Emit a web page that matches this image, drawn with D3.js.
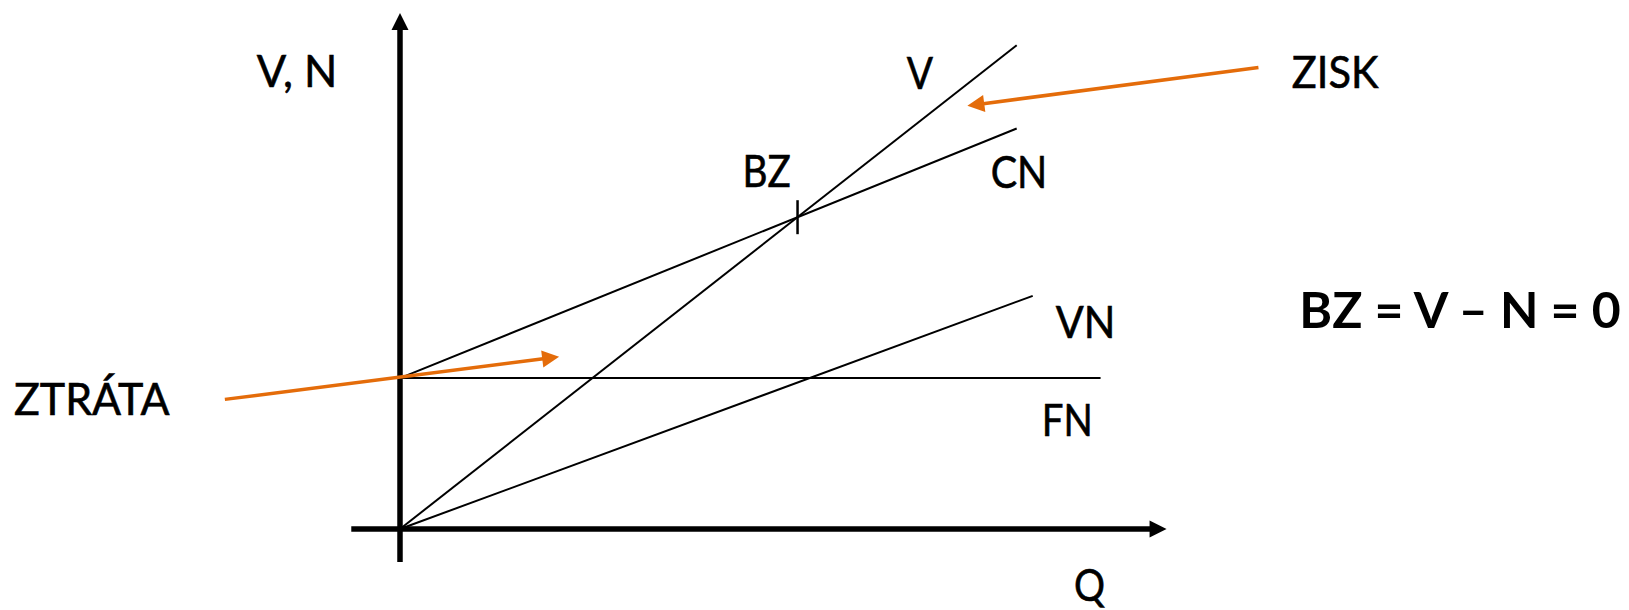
<!DOCTYPE html>
<html>
<head>
<meta charset="utf-8" />
<title>bod zvratu</title>
<script src="https://cdn.jsdelivr.net/npm/d3@7"></script>
<style>
  html, body { margin: 0; padding: 0; background: #fff; }
  svg { display: block; }
  text { font-family: Lato, "Open Sans", sans-serif; fill: #000; }
</style>
</head>
<body>
<svg width="1629" height="610"></svg>
<script>
// data (Q on x, V/N on y)
var lineNames = ["V", "CN", "VN", "FN"];
var lineFrom  = [[0, 0], [0, 31.2], [0, 0], [0, 31.2]];
var lineTo    = [[100, 100], [100, 82.8], [102.6, 48.2], [113.6, 31.2]];

var qAxisRange = [-7.9, 124.3];
var vAxisRange = [-6.8, 106.7];

var arrowNames = ["ZISK", "ZTRÁTA"];
var arrowFrom  = [[139.2, 95.4], [-28.4, 26.8]];
var arrowTo    = [[92.0, 87.5], [25.8, 35.6]];

var axisTitles = ["V, N", "Q"];
var formula = "BZ = V – N = 0";

var svg = d3.select("svg");
var orange = "#E46C0A";

var x = d3.scaleLinear().domain([0, 100]).range([400, 1016.7]);
var y = d3.scaleLinear().domain([0, 100]).range([529, 45.3]);

// arrowhead helper
function head(g, x2, y2, ang, len, half, color) {
  var p = [
    [x2, y2],
    [x2 - len * Math.cos(ang) + half * Math.sin(ang), y2 - len * Math.sin(ang) - half * Math.cos(ang)],
    [x2 - len * Math.cos(ang) - half * Math.sin(ang), y2 - len * Math.sin(ang) + half * Math.cos(ang)]
  ];
  g.append("path").attr("d", "M" + p.join("L") + "Z").attr("fill", color);
}

function arrow(g, x1, y1, x2, y2, w, color) {
  var ang = Math.atan2(y2 - y1, x2 - x1);
  var len = 17;
  g.append("line")
    .attr("x1", x1).attr("y1", y1)
    .attr("x2", x2 - (len - 1) * Math.cos(ang)).attr("y2", y2 - (len - 1) * Math.sin(ang))
    .attr("stroke", color).attr("stroke-width", w);
  head(g, x2, y2, ang, len, 8.5, color);
}

// axes
var axes = svg.append("g");
arrow(axes, x(qAxisRange[0]), y(0), x(qAxisRange[1]), y(0), 5.5, "#000");
arrow(axes, x(0), y(vAxisRange[0]), x(0), y(vAxisRange[1]), 5.5, "#000");

// lines
var lines = svg.append("g");
lineNames.forEach(function(n, i) {
  lines.append("line")
    .attr("x1", x(lineFrom[i][0])).attr("y1", y(lineFrom[i][1]))
    .attr("x2", x(lineTo[i][0])).attr("y2", y(lineTo[i][1]))
    .attr("stroke", "#000").attr("stroke-width", 2);
});

// break-even point = V x CN
function slope(i) { return (lineTo[i][1] - lineFrom[i][1]) / (lineTo[i][0] - lineFrom[i][0]); }
var sV = slope(0), sC = slope(1);
var bzQ = (lineFrom[1][1] - lineFrom[0][1]) / (sV - sC);
var bzV = lineFrom[0][1] + sV * bzQ;
lines.append("line")
  .attr("x1", x(bzQ)).attr("x2", x(bzQ))
  .attr("y1", y(bzV) - 17).attr("y2", y(bzV) + 17)
  .attr("stroke", "#000").attr("stroke-width", 2.5);

// orange arrows
var ann = svg.append("g");
arrowNames.forEach(function(n, i) {
  arrow(ann, x(arrowFrom[i][0]), y(arrowFrom[i][1]), x(arrowTo[i][0]), y(arrowTo[i][1]), 3.5, orange);
});

// labels: [text, x, baseline, width, bold]
var labelOffsets = {V: [-110, 44, 26.3], CN: [-26, 60, 56.6], VN: [23, 42.6, 59.7], FN: [-58.7, 58.4, 51]};
var labels = [];
lineNames.forEach(function(n, i) {
  var o = labelOffsets[n];
  labels.push([n, x(lineTo[i][0]) + o[0], y(lineTo[i][1]) + o[1], o[2], false]);
});
labels.push(["BZ", x(bzQ) - 55, y(bzV) - 30, 48.3, false]);
labels.push([axisTitles[0], 256.7, 87, 80.6, false]);
labels.push([axisTitles[1], 1074, 601, 31, false]);
labels.push([arrowNames[0], x(arrowFrom[0][0]) + 33.4, y(arrowFrom[0][1]) + 20, 86.6, false]);
labels.push([arrowNames[1], 14, 415, 155.5, false]);
labels.push([formula, 1299.3, 327.5, 321.4, true]);

svg.append("g").selectAll("text").data(labels).enter().append("text")
  .attr("x", function(d) { return d[1]; })
  .attr("y", function(d) { return d[2]; })
  .attr("textLength", function(d) { return d[3]; })
  .attr("lengthAdjust", "spacingAndGlyphs")
  .attr("font-size", function(d) { return d[4] ? 49 : 44; })
  .attr("font-weight", function(d) { return d[4] ? 700 : 400; })
  .attr("stroke", "#000")
  .attr("stroke-width", function(d) { return d[4] ? 0 : 0.6; })
  .text(function(d) { return d[0]; });
</script>
</body>
</html>
